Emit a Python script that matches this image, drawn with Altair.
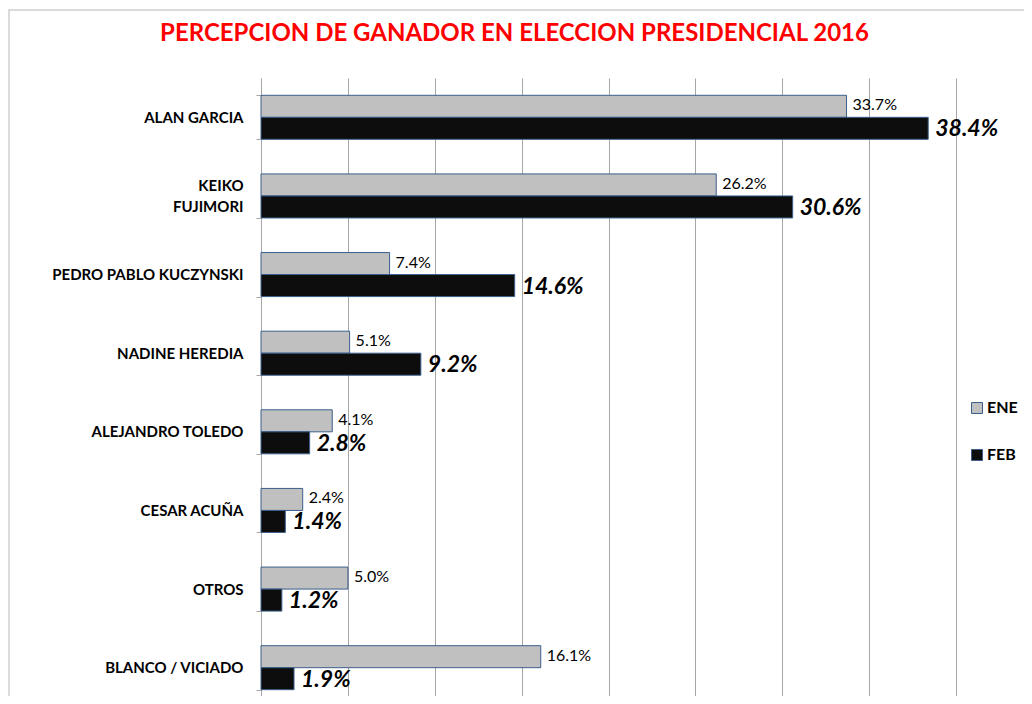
import altair as alt
import pandas as pd

candidatos = ["ALAN GARCIA", "KEIKO FUJIMORI", "PEDRO PABLO KUCZYNSKI", "NADINE HEREDIA",
              "ALEJANDRO TOLEDO", "CESAR ACUÑA", "OTROS", "BLANCO / VICIADO"]
ene = [33.7, 26.2, 7.4, 5.1, 4.1, 2.4, 5.0, 16.1]
feb = [38.4, 30.6, 14.6, 9.2, 2.8, 1.4, 1.2, 1.9]
periodos = ["ENE", "FEB"]
x_ticks = [0, 5, 10, 15, 20, 25, 30, 35, 40]

rows = []
for c, a, b in zip(candidatos, ene, feb):
    rows.append({"candidato": c, "periodo": "ENE", "valor": a, "etiqueta": f"{a:.1f}%"})
    rows.append({"candidato": c, "periodo": "FEB", "valor": b, "etiqueta": f"{b:.1f}%"})
df = pd.DataFrame(rows)

FONT = "Lato"
STROKE = "#3A5F8C"
GRID = "#A6A6A6"

label_expr = ("datum.value == 'KEIKO FUJIMORI' ? "
              "['KEIKO\u00a0\u00a0\u00a0\u00a0', 'FUJIMORI'] : datum.label")

y_enc = alt.Y(
    "candidato:N",
    sort=candidatos,
    scale=alt.Scale(domain=candidatos, range=[0, 629], paddingInner=0.44, paddingOuter=0.22),
    axis=alt.Axis(
        title=None, labelFont=FONT, labelFontSize=15, labelFontWeight="bold",
        labelColor="black", labelPadding=13, tickSize=5, tickColor=GRID,
        domainColor=GRID, tickBand="extent", labelLimit=300, labelLineHeight=21,
        labelExpr=label_expr, grid=False,
        labelOffset={"condition": {"test": "datum.value == 'KEIKO FUJIMORI'", "value": -10},
                     "value": 0},
    ),
)
yoff_enc = alt.YOffset("periodo:N", sort=periodos, scale=alt.Scale(domain=periodos))

base = alt.Chart(df).encode(y=y_enc, yOffset=yoff_enc)

x_enc = alt.X(
    "valor:Q",
    scale=alt.Scale(domain=[0, 40], nice=False),
    axis=alt.Axis(values=x_ticks, grid=True, gridColor=GRID, labels=False, orient="top",
                  ticks=False, domain=False, title=None),
)

bars = base.mark_bar(stroke=STROKE, strokeWidth=1).encode(
    x=x_enc,
    color=alt.Color(
        "periodo:N",
        sort=periodos,
        scale=alt.Scale(domain=periodos, range=["#C0C0C0", "#0D0D0D"]),
        legend=alt.Legend(
            title=None, orient="none", legendX=708, legendY=322, padding=0,
            symbolType="square", symbolSize=121, symbolStrokeColor=STROKE,
            symbolStrokeWidth=1, labelFont=FONT, labelFontSize=16,
            labelFontWeight="bold", labelColor="black", rowPadding=31, labelOffset=2,
        ),
    ),
)

t_ene = base.transform_filter("datum.periodo == 'ENE'").mark_text(
    align="left", baseline="middle", dx=6, dy=-1, font=FONT, fontSize=16, color="black"
).encode(x="valor:Q", text="etiqueta:N")

t_feb = base.transform_filter("datum.periodo == 'FEB'").mark_text(
    align="left", baseline="middle", dx=7, dy=1, font=FONT, fontSize=23,
    fontStyle="italic", fontWeight="bold", color="black"
).encode(x="valor:Q", text="etiqueta:N")

border = alt.Chart(pd.DataFrame({"k": [0]})).mark_rect(
    filled=False, stroke="#D0D0D0", strokeWidth=1.5
).encode(
    x=alt.value(-252), x2=alt.value(800), y=alt.value(-68), y2=alt.value(720)
)

chart = alt.layer(border, bars, t_ene, t_feb).properties(
    width=695,
    height=618,
    title=alt.TitleParams(
        text="PERCEPCION DE GANADOR EN ELECCION PRESIDENCIAL 2016",
        color="#FF0000", font=FONT, fontSize=24, fontWeight="bold",
        anchor="middle", frame="group", dx=-94, offset=-37,
    ),
    padding={"left": 253, "top": 70, "right": 68, "bottom": 0},
    autosize=alt.AutoSizeParams(type="none"),
).configure_view(stroke=None)

chart.save("out.html", embed_options={"renderer": "svg", "actions": False})
